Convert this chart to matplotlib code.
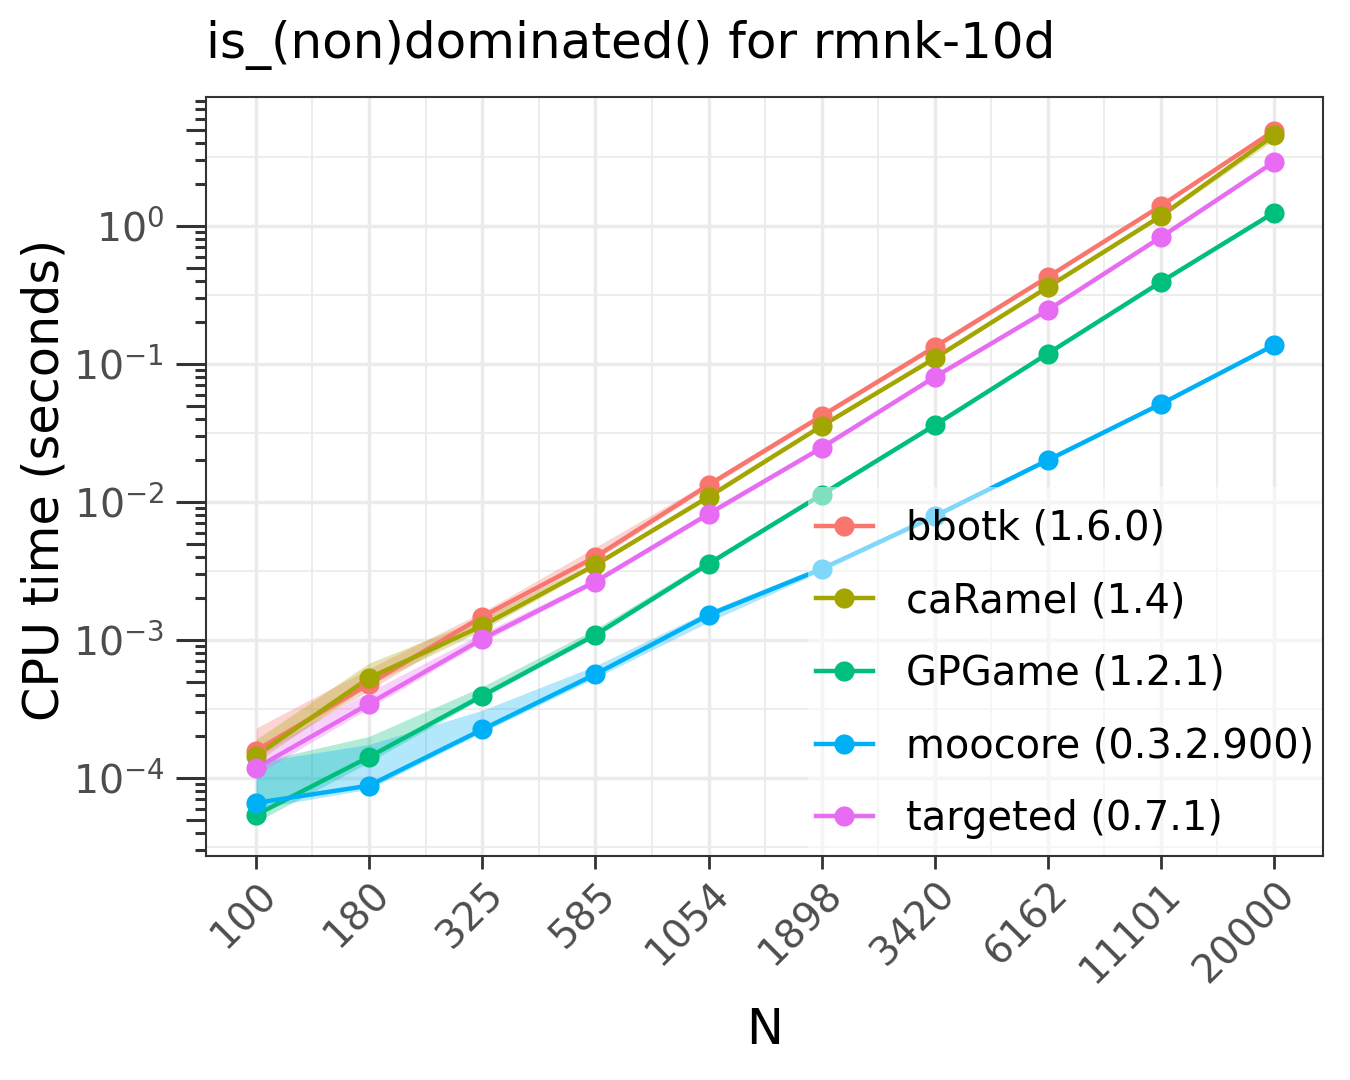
import numpy as np
import matplotlib
matplotlib.use("Agg")
import matplotlib.pyplot as plt
from matplotlib.lines import Line2D
from matplotlib.patches import Rectangle
from matplotlib.ticker import LogLocator, FixedLocator, NullFormatter, LogFormatterSciNotation, NullLocator
from matplotlib.transforms import ScaledTranslation

# ---------------- data ----------------
N = [100, 180, 325, 585, 1054, 1898, 3420, 6162, 11101, 20000]
tick_labels = ["100", "180", "325", "585", "1054", "1898", "3420", "6162", "11101", "20000"]

series_names = ["bbotk (1.6.0)", "caRamel (1.4)", "GPGame (1.2.1)",
                "moocore (0.3.2.900)", "targeted (0.7.1)"]
series_colors = ["#F8766D", "#A3A500", "#00BF7D", "#00B0F6", "#E76BF3"]

bbotk = [1.58e-4, 4.8e-4, 1.48e-3, 4.0e-3, 1.33e-2, 4.2e-2, 0.133, 0.427, 1.40, 4.9]
bbotk_lo = [1.40e-4, 4.3e-4, 1.35e-3, 3.8e-3, 1.27e-2, 4.05e-2, 0.128, 0.415, 1.36, 4.75]
bbotk_hi = [2.3e-4, 6.2e-4, 1.6e-3, 4.7e-3, 1.40e-2, 4.4e-2, 0.138, 0.44, 1.44, 5.05]

caRamel = [1.45e-4, 5.3e-4, 1.27e-3, 3.5e-3, 1.09e-2, 3.55e-2, 0.110, 0.361, 1.18, 4.55]
caRamel_lo = [1.30e-4, 4.7e-4, 1.18e-3, 3.4e-3, 1.05e-2, 3.45e-2, 0.107, 0.352, 1.15, 4.2]
caRamel_hi = [1.9e-4, 6.8e-4, 1.45e-3, 3.7e-3, 1.13e-2, 3.65e-2, 0.113, 0.37, 1.21, 4.7]

GPGame = [5.4e-5, 1.42e-4, 3.95e-4, 1.09e-3, 3.56e-3, 1.13e-2, 3.6e-2, 0.119, 0.393, 1.25]
GPGame_lo = [4.8e-5, 1.30e-4, 3.8e-4, 1.05e-3, 3.45e-3, 1.10e-2, 3.5e-2, 0.116, 0.385, 1.22]
GPGame_hi = [1.3e-4, 2.0e-4, 4.6e-4, 1.2e-3, 3.8e-3, 1.18e-2, 3.7e-2, 0.122, 0.40, 1.28]

moocore = [6.6e-5, 8.8e-5, 2.25e-4, 5.65e-4, 1.52e-3, 3.27e-3, 7.9e-3, 2.01e-2, 5.13e-2, 0.137]
moocore_lo = [6.0e-5, 8.3e-5, 2.15e-4, 5.3e-4, 1.35e-3, 3.15e-3, 7.6e-3, 1.95e-2, 5.0e-2, 0.134]
moocore_hi = [1.3e-4, 1.75e-4, 3.1e-4, 6.5e-4, 1.62e-3, 3.45e-3, 8.2e-3, 2.07e-2, 5.25e-2, 0.140]

targeted = [1.18e-4, 3.45e-4, 1.02e-3, 2.65e-3, 8.2e-3, 2.47e-2, 8.05e-2, 0.246, 0.83, 2.91]
targeted_lo = [1.05e-4, 3.2e-4, 0.97e-3, 2.55e-3, 7.9e-3, 2.4e-2, 7.85e-2, 0.24, 0.81, 2.85]
targeted_hi = [1.5e-4, 4.2e-4, 1.12e-3, 2.8e-3, 8.5e-3, 2.55e-2, 8.3e-2, 0.252, 0.85, 2.97]

means = [bbotk, caRamel, GPGame, moocore, targeted]
lows = [bbotk_lo, caRamel_lo, GPGame_lo, moocore_lo, targeted_lo]
highs = [bbotk_hi, caRamel_hi, GPGame_hi, moocore_hi, targeted_hi]

title = "is_(non)dominated() for rmnk-10d"
xlabel = "N"
ylabel = "CPU time (seconds)"

# ---------------- figure ----------------
W, H = 1350, 1080
fig = plt.figure(figsize=(13.5, 10.8), dpi=100)
L, R, T, B = 206, 1323, 97, 856
pos = [L / W, 1 - B / H, (R - L) / W, (B - T) / H]
ax = fig.add_axes(pos)

ax.set_xscale("log")
ax.set_yscale("log")
ax.set_xlim(10 ** (2 - 50 / 442.4), 10 ** (np.log10(20000) + 49 / 442.4))
ax.set_ylim(10 ** (-4 - 78 / 138), 10 ** (129 / 138))

# grid (ggplot theme_bw style)
gcol = "#EBEBEB"
logN = np.log10(N)
for v in N:
    ax.axvline(v, color=gcol, lw=2.5, zorder=0)
for a, b in zip(logN[:-1], logN[1:]):
    ax.axvline(10 ** ((a + b) / 2), color=gcol, lw=1.25, zorder=0)
for k in range(-5, 2):
    ax.axhline(10.0 ** k, color=gcol, lw=2.5, zorder=0)
    ax.axhline(10.0 ** (k + 0.5), color=gcol, lw=1.25, zorder=0)

# ribbons
for lo, hi, c in zip(lows, highs, series_colors):
    ax.fill_between(N, lo, hi, color=c, alpha=0.3, lw=0, zorder=1)
# lines
for m, c in zip(means, series_colors):
    ax.plot(N, m, color=c, lw=3.2, zorder=2, solid_capstyle="butt")
# points
for m, c in zip(means, series_colors):
    ax.plot(N, m, linestyle="none", marker="o", ms=14.5, color=c, mew=0, zorder=3)

# spines
for s in ax.spines.values():
    s.set_color("#333333")
    s.set_linewidth(1.5)
    s.set_zorder(10)

# x ticks
ax.xaxis.set_major_locator(FixedLocator(N))
ax.xaxis.set_minor_locator(NullLocator())
ax.set_xticks(N)
ax.set_xticklabels(tick_labels)
ax.tick_params(axis="x", which="major", length=9.5, width=2.0, color="#333333",
               labelsize=28.4, labelcolor="#4D4D4D", pad=4)
for lab in ax.get_xticklabels():
    lab.set_rotation(45)
    lab.set_ha("right")
    lab.set_va("top")
    lab.set_rotation_mode("anchor")
    lab.set_transform(lab.get_transform() + ScaledTranslation(0.01, 0, fig.dpi_scale_trans))

# y ticks: decades long, 2-9 short
ax.yaxis.set_major_locator(LogLocator(base=10, numticks=20))
ax.yaxis.set_major_formatter(LogFormatterSciNotation(base=10))
ax.yaxis.set_minor_locator(LogLocator(base=10, subs=[2, 3, 4, 6, 7, 8, 9], numticks=50))
ax.yaxis.set_minor_formatter(NullFormatter())
ax.tick_params(axis="y", which="major", length=21.6, width=2.2, color="#333333",
               labelsize=28.4, labelcolor="#4D4D4D", pad=8.6)
ax.tick_params(axis="y", which="minor", length=7.9, width=2.2, color="#333333")

# 5x ticks (medium length) on an overlay axes
ax5 = fig.add_axes(pos)
ax5.set_yscale("log")
ax5.set_ylim(ax.get_ylim())
ax5.set_xlim(0, 1)
ax5.patch.set_visible(False)
for s in ax5.spines.values():
    s.set_visible(False)
ax5.set_xticks([])
ax5.yaxis.set_major_locator(LogLocator(base=10, subs=[5], numticks=50))
ax5.yaxis.set_major_formatter(NullFormatter())
ax5.yaxis.set_minor_locator(NullLocator())
ax5.tick_params(axis="y", which="major", length=14.4, width=2.2, color="#333333")
ax5.set_zorder(ax.get_zorder() - 1)

# legend background and legend
ax.add_patch(Rectangle(((808 - L) / (R - L), 0), 1 - (808 - L) / (R - L), (B - 487) / (B - T),
                       transform=ax.transAxes, facecolor="white", alpha=0.5,
                       edgecolor="none", zorder=5))
handles = [Line2D([], [], color=c, lw=3.2, marker="o", ms=14.5, mew=0) for c in series_colors]
leg = ax.legend(handles, series_names, loc="center left",
                bbox_to_anchor=((816 - L) / (R - L), (B - 674) / (B - T)),
                frameon=False, fontsize=28.7, borderpad=0, borderaxespad=0,
                handlelength=1.42, handletextpad=0.85, labelspacing=0.82)
leg.set_zorder(6)

# titles
fig.text(L / W, 1 - 58 / H, title, fontsize=36, ha="left", va="baseline", color="black")
fig.text(45 / W, 1 - 480 / H, ylabel, fontsize=35.5, rotation=90, ha="center", va="center")
fig.text((L + R) / 2 / W, 1 - 1030 / H, xlabel, fontsize=35.5, ha="center", va="center")

fig.savefig("out.png", dpi=100, facecolor="white")
